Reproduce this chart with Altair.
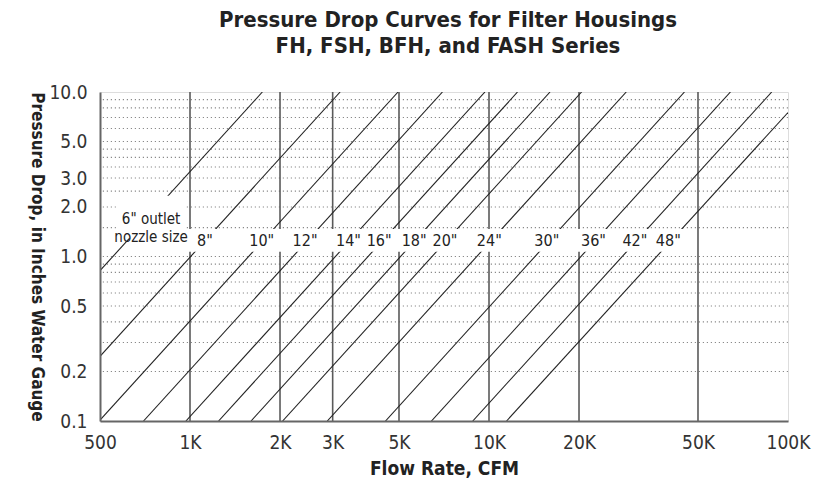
import altair as alt
import pandas as pd

# ---- data ----
sizes = ['6"', '8"', '10"', '12"', '14"', '16"', '18"', '20"', '24"', '30"', '36"', '42"', '48"']
flow_start = [500, 500, 500, 699, 969, 1246, 1600, 2040, 2878, 4506, 6419, 8823, 11447]
pressure_start = [0.82, 0.2475, 0.1014, 0.1, 0.1, 0.1, 0.1, 0.1, 0.1, 0.1, 0.1, 0.1, 0.1]
flow_end = [1746, 3178, 4965, 6989, 9692, 12459, 16001, 20400, 28777, 45063, 64194, 88228, 100000]
pressure_end = [10, 10, 10, 10, 10, 10, 10, 10, 10, 10, 10, 10, 7.5]

label_sizes = ['8"', '10"', '12"', '14"', '16"', '18"', '20"', '24"', '30"', '36"', '42"', '48"']
label_flow = [1122, 1738, 2425, 3388, 4291, 5617, 7126, 10025, 15605, 22360, 30760, 39780]
label_pressure = [1.24] * len(label_sizes)

vertical_grid = [1000, 2000, 3000, 5000, 10000, 20000, 50000]
dotted_grid = [0.2, 0.3, 0.4, 0.5, 0.6, 0.7, 0.8, 0.9, 1.0, 1.5, 2.0, 2.5, 3.0, 3.5,
               4.0, 4.5, 5.0, 6.0, 7.0, 8.0, 9.0]

x_ticks = [500, 1000, 2000, 3000, 5000, 10000, 20000, 50000, 100000]
y_ticks = [0.1, 0.2, 0.5, 1.0, 2.0, 3.0, 5.0, 10.0]

note_text = ['6" outlet\nnozzle size']
note_flow = [741]
note_pressure = [1.69]

# label backdrops (white)
mask_flow = [700, 565]
mask_flow2 = [46000, 971]
mask_p = [1.07, 1.29]
mask_p2 = [1.47, 2.34]

# ---- tables ----
rows = []
for s, f0, p0, f1, p1 in zip(sizes, flow_start, pressure_start, flow_end, pressure_end):
    rows.append({"size": s, "flow": f0, "pressure": p0, "order": 0})
    rows.append({"size": s, "flow": f1, "pressure": p1, "order": 1})
curves = pd.DataFrame(rows)
labels = pd.DataFrame({"size": label_sizes, "flow": label_flow, "pressure": label_pressure})
vgrid = pd.DataFrame({"flow": vertical_grid})
hgrid = pd.DataFrame({"pressure": dotted_grid})
note = pd.DataFrame({"text": note_text, "flow": note_flow, "pressure": note_pressure})
masks = pd.DataFrame({"f": mask_flow, "f2": mask_flow2, "p": mask_p, "p2": mask_p2})

FONT = "DejaVu Sans Condensed, sans-serif"

xscale = alt.Scale(type="log", domain=[500, 100000], nice=False)
yscale = alt.Scale(type="log", domain=[0.1, 10], nice=False)

xaxis = alt.Axis(
    values=x_ticks,
    labelExpr="datum.value >= 1000 ? format(datum.value / 1000, 'd') + 'K' : format(datum.value, 'd')",
    title="Flow Rate, CFM", titleFont=FONT, titleFontSize=19, titleFontWeight="bold",
    titleColor="#222", titleX=344, titleY=53, titleBaseline="alphabetic", titleAlign="center",
    labelFont=FONT, labelFontSize=19, labelColor="#333", labelPadding=12,
    labelOverlap=False, labelFlush=False, labelBound=False,
    tickSize=0, domainColor="#666", domainWidth=2, grid=False, zindex=1,
)
yaxis = alt.Axis(
    values=y_ticks, format=".1f",
    title="Pressure Drop, in Inches Water Gauge", titleFont=FONT, titleFontSize=17,
    titleFontWeight="bold", titleColor="#222", titleAngle=90, titleX=-64, titleY=164.5,
    titleAlign="center", titleBaseline="middle",
    labelFont=FONT, labelFontSize=19, labelColor="#333", labelPadding=13,
    labelOverlap=False, tickSize=0, domainColor="#666", domainWidth=2, grid=False, zindex=1,
)

base_x = alt.X("flow:Q", scale=xscale, axis=xaxis)
base_y = alt.Y("pressure:Q", scale=yscale, axis=yaxis)

dots = alt.Chart(hgrid).mark_rule(color="#8a8a8a", strokeDash=[1.2, 2.8], strokeWidth=1.2).encode(
    y=alt.Y("pressure:Q", scale=yscale, axis=yaxis)
)
verts = alt.Chart(vgrid).mark_rule(color="#5a5a5a", strokeWidth=1.6).encode(
    x=alt.X("flow:Q", scale=xscale, axis=xaxis)
)
lines = alt.Chart(curves).mark_line(color="#222", strokeWidth=1.1, clip=True).encode(
    x=base_x, y=base_y, detail="size:N", order="order:Q"
)
mask_layer = alt.Chart(masks).mark_rect(color="white", opacity=1).encode(
    x=alt.X("f:Q", scale=xscale, axis=xaxis), x2="f2:Q",
    y=alt.Y("p:Q", scale=yscale, axis=yaxis), y2="p2:Q",
)
label_layer = alt.Chart(labels).mark_text(font=FONT, fontSize=16, color="#222",
                                          align="center", baseline="middle").encode(
    x=base_x, y=base_y, text="size:N"
)
note_layer = alt.Chart(note).mark_text(font=FONT, fontSize=15, color="#222", align="center",
                                       baseline="middle", lineBreak="\n", lineHeight=18).encode(
    x=base_x, y=base_y, text="text:N"
)

chart = alt.layer(dots, verts, lines, mask_layer, label_layer, note_layer).properties(
    width=688, height=329,
    autosize=alt.AutoSizeParams(type="none"),
    padding={"left": 92, "top": 84, "right": 24, "bottom": 58},
    title=alt.TitleParams(
        text=["Pressure Drop Curves for Filter Housings", "FH, FSH, BFH, and FASH Series"],
        font=FONT, fontSize=22, fontWeight="bold", color="#222", anchor="middle",
        frame="group", offset=25, lineHeight=26, dx=4,
    ),
).configure_view(stroke=None).configure(background="white")

chart.save("out.html", embed_options={"renderer": "svg", "actions": False})
